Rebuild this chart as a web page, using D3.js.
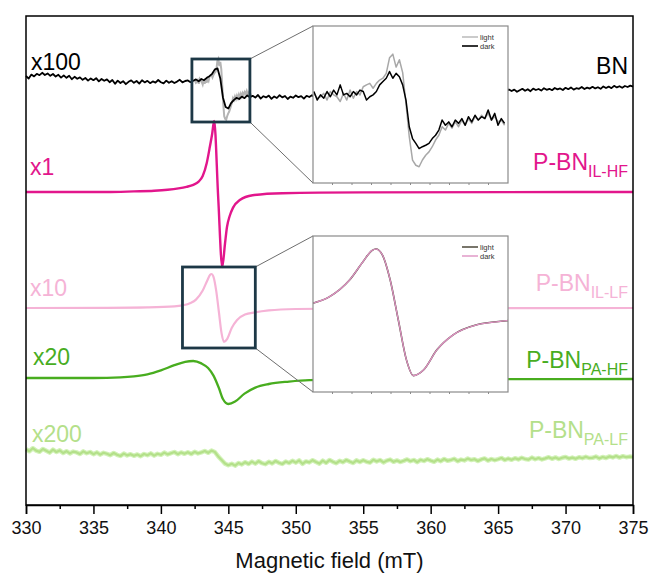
<!DOCTYPE html>
<html>
<head>
<meta charset="utf-8">
<script src="https://cdn.jsdelivr.net/npm/d3@7"></script>
<style>
  body { margin: 0; background: #fff; }
  svg { display: block; font-family: "Liberation Sans", Arial, sans-serif; }
</style>
</head>
<body>
<svg id="chart" width="651" height="574"></svg>
<script>
// ---------- EPR spectra (intensity in a.u., already multiplied by the stated factor) ----------

// BN, dark: evenly sampled from 330 mT in 0.2 mT steps
const bnStart = 330, bnStep = 0.2;
const bnDark = [
  0.5, -0.8, 1.2, 0.3, 1.6,   0.9, 2.1, 1.0, 1.8, 0.6,   1.5, 0.2, 1.1, -0.3, 0.8,
  -0.4, 0.6, -1.1, 0.1, -0.9, -0.2, -1.4, -0.5, -1.8, -0.7, -1.6, -0.6, -2.2, -1.0, -1.9,
  -1.2, -2.6, -1.5, -3.4, -1.8, -3.0, -2.1, -3.6, -2.4, -1.7, -2.9, -2.0, -3.3, -1.6, -2.7,
  -1.9, -3.1, -2.2, -2.8, -1.5, -2.6, -3.2, -1.8, -2.9, -2.1, -3.0, -2.3, -1.4, -2.7, -2.0,
  -1.7, -2.6, -1.9, -1.2, -2.2, -1.0, -1.6, -0.4, 0.4, 1.6,   3.8, 4.3, -0.6, -10.2, -15.0,
  -15.8, -13.1, -11.6, -10.4, -11.0, -9.8, -10.6, -9.2, -10.1, -9.4, -10.3, -9.0, -10.8, -9.6, -10.2,
  -9.3, -10.9, -9.7, -10.5, -9.1, -10.2, -9.5, -11.0, -9.8, -10.4, -9.2, -10.1, -9.6, -10.8, -9.4,
  -10.0, -9.1, -10.3, -8.8, -9.9, -9.3, -10.4, -8.9, -9.7, -9.0, -10.1, -8.7, -9.6, -9.2, -10.0,
  -8.6, -9.8, -8.9, -9.4, -8.3, -9.5, -8.4, -9.1, -8.0, -9.3, -8.7, -9.6, -8.2, -9.0, -8.5,
  -9.2, -7.9, -8.8, -8.1, -9.0, -8.3, -7.6, -8.9, -7.8, -8.4, -7.5, -8.6, -7.9, -8.2, -7.2,
  -8.4, -7.7, -8.8, -7.3, -8.0, -7.1, -8.2, -7.6, -6.8, -7.9, -7.4, -8.1, -6.9, -7.7, -7.0,
  -8.0, -6.7, -7.5, -7.1, -6.6, -7.6, -6.9, -7.8, -6.4, -7.2, -6.8, -7.5, -6.5, -7.3, -6.2,
  -7.0, -6.3, -7.4, -6.6, -5.9, -6.9, -6.1, -7.1, -5.8, -6.5, -6.0, -6.8, -5.6, -6.4, -5.9,
  -6.6, -5.5, -6.2, -5.7, -6.5, -5.4, -6.1, -5.2, -6.3, -5.6, -5.9, -5.0, -6.0, -5.3, -5.8,
  -4.9, -5.7, -5.1, -5.9, -4.7, -5.5, -4.8, -5.6, -4.4, -5.2, -4.6, -5.4, -4.5, -5.0, -4.3,
  -4.8
];

// BN around the signal, finer sampling: dark and light measurements
const bnFineStart = 342.52, bnFineStep = 0.0725;
const bnFineDark = [
  -1.1, -3.4, -2.0, -2.9, -1.1, -2.5, -0.7, -2.0, 0.7, -2.0,
  -1.6, -2.5, -1.1, -2.0, -0.7, -1.1, -3.4, -2.5, -2.0, -1.1,
  0.7, 1.6, 2.5, 4.3, 2.5, 3.8, 2.9, 0.7, -3.4, -10.6,
  -13.8, -15.1, -16.5, -16.0, -15.6, -15.1, -13.8, -12.9, -11.5, -8.8,
  -10.2, -9.3, -10.6, -8.8, -9.7, -8.4, -10.2, -7.9, -9.3, -7.5,
  -8.8, -7.9, -8.4, -6.1, -8.8, -7.0, -10.2, -8.4, -9.7
];
const bnFineLight = [
  -1.6, -2.9, -2.5, -1.6, -3.4, -1.1, -2.0, -2.5, -3.8, -1.6,
  -3.4, -0.7, -2.9, -1.1, -2.0, 0.2, 0.7, 1.1, -0.2, 1.1,
  2.0, 2.5, 3.8, 8.0, 9.0, 5.5, 7.5, 4.0, -4.3, -13.3,
  -19.6, -21.0, -21.4, -19.6, -18.3, -17.4, -16.0, -14.2, -12.9, -10.6,
  -11.5, -9.7, -11.0, -9.3, -10.6, -8.8, -10.2, -8.4, -9.7, -7.9,
  -8.8, -7.5, -8.4, -7.0, -8.8, -7.9, -9.3, -8.8, -10.2
];

// P-BN IL-HF (x1): [field mT, intensity]
const ilHF = [
  [330, 0], [336, 0], [338, 0.3], [339.5, 0.6], [340.5, 1.1], [341.3, 1.8], [341.9, 2.6],
  [342.4, 3.6], [342.8, 5.2], [343.1, 8], [343.4, 14.5], [343.6, 21.5], [343.8, 29],
  [343.95, 35.5], [344.25, -3], [344.55, -37.5], [344.75, -26], [344.9, -17.5],
  [345.1, -12], [345.35, -7.8], [345.85, -4], [346.8, -1.6], [349, -0.6],
  [355, -0.2], [375, 0]
];

// P-BN IL-LF (x10), dark
const ilLF = [
  [330, 0], [336, 0.1], [339, 0.3], [341, 0.8], [341.6, 1.3], [342.2, 2.5],
  [342.6, 4.2], [343.1, 8.7], [343.43, 13.6], [343.65, 16.6], [343.75, 17],
  [343.9, 15.6], [344.1, 8.7], [344.3, -2], [344.5, -12.7], [344.67, -16.9],
  [344.92, -15.4], [345.25, -10], [345.65, -6], [346.23, -3.3], [346.97, -2.2],
  [348, -1.2], [350, -0.5], [355, -0.2], [375, 0]
];

// P-BN PA-HF (x20)
const paHF = [
  [330, 0], [335, 0], [337, 0.3], [338, 0.8], [339, 1.8], [340, 3.8], [341, 6.4],
  [341.8, 8.1], [342.4, 8.5], [343.0, 7.3], [343.5, 5], [343.9, 1.2], [344.3, -5],
  [344.6, -10.5], [345.0, -13], [345.5, -11.8], [346.2, -7.8], [347.0, -4.8],
  [348.0, -3], [349.5, -1.8], [351, -1.1], [355, -0.7], [375, -0.5]
];

// P-BN PA-LF (x200): evenly sampled from 330 mT in 0.25 mT steps
const paLFStart = 330, paLFStep = 0.25;
const paLF = [
  0.4, -0.6, 0.9, -0.3,  -0.9, 0.5, -0.4, -1.3,  0.2, -1.0, -0.2, -1.5,
  -0.6, -1.7, -0.8, -1.2,  -2.0, -0.7, -1.6, -1.0,  -2.1, -1.2, -2.3, -1.4,
  -1.9, -2.6, -1.5, -2.4,  -3.0, -1.8, -2.7, -2.1,  -2.9, -2.2, -3.1, -2.0,
  -2.6, -1.7, -2.8, -1.9,  -2.4, -1.3, -2.2, -1.6,  -1.0, -2.1, -1.2, -1.9,
  -1.1, -2.0, -0.9, -1.7,  -1.2, -0.5, -1.4, -0.3,  -1.0, -3.2, -5.0, -6.8,
  -7.6, -6.9, -7.8, -6.5,  -7.2, -6.1, -7.0, -5.8,  -6.8, -5.6, -6.6, -7.1,
  -5.9, -6.7, -5.5, -6.4,  -7.0, -5.8, -6.5, -5.4,  -6.3, -5.2, -6.9, -5.7,
  -6.2, -5.1, -6.0, -6.8,  -5.3, -6.4, -5.0, -5.9,  -6.6, -5.4, -6.1, -5.0,
  -5.8, -6.5, -5.2, -6.0,  -5.1, -5.9, -6.3, -4.9,  -5.7, -5.0, -6.2, -5.3,
  -4.8, -5.9, -5.2, -6.0,  -5.4, -4.7, -5.6, -5.0,  -6.1, -4.9, -5.5, -4.6,
  -5.3, -5.9, -4.8, -5.6,  -4.5, -5.4, -5.0, -4.4,  -5.6, -4.8, -5.2, -4.3,
  -5.0, -4.6, -5.5, -4.7,  -4.2, -5.3, -4.5, -5.1,  -4.6, -4.0, -5.0, -4.3,
  -4.9, -4.1, -4.7, -3.9,  -4.5, -4.8, -3.8, -4.6,  -4.0, -4.7, -4.2, -3.6,
  -4.4, -3.7, -4.5, -3.9,  -3.5, -4.3, -3.8, -4.4,  -3.6, -4.1, -3.4, -4.0,
  -3.9, -3.3, -4.2, -3.5,  -4.0, -3.2, -3.7, -3.0,  -3.8, -3.1, -3.6, -3.3,
  -3.5
];

// vertical stacking of the spectra (a.u.)
const traceOffsets = { bn: 214, ilHF: 156.5, ilLF: 98.5, paHF: 63.5, paLF: 27.5 };

// labels
const factorLabels = ["x100", "x1", "x10", "x20", "x200"];
const sampleNames = ["BN", "P-BN", "P-BN", "P-BN", "P-BN"];
const sampleSubs = ["", "IL-HF", "IL-LF", "PA-HF", "PA-LF"];
const majorTicks = [330, 335, 340, 345, 350, 355, 360, 365, 370, 375];
const minorTicks = [332.5, 337.5, 342.5, 347.5, 352.5, 357.5, 362.5, 367.5, 372.5];

// zoomed windows: field range of the marker boxes and of the insets
const box1Field = [342.3, 346.6], box1Int = [191.5, 223];
const box2Field = [341.6, 347.0], box2Int = [78.5, 119];
const inset1Field = [342.5, 346.8], inset1Int = [-25.8, 16.6];
const inset2Field = [342.2, 347.0], inset2Int = [-21.3, 20.5];

// ---------- drawing ----------
const colors = {
  bn: "#000000", bnLight: "#b4b4b4",
  ilHF: "#e2168c", ilLF: "#f5b3d6", paHF: "#48ad1f", paLF: "#b4e08a",
  box: "#1d3846", frame: "#8a8a8a"
};
const svg = d3.select("#chart");
const plot = { left: 26, right: 633, top: 16, bottom: 505 };

const x = d3.scaleLinear().domain([330, 375]).range([plot.left, plot.right]);
const y = d3.scaleLinear().domain([0, 244.5]).range([plot.bottom, plot.top]);

const even = (arr, start, step) => arr.map((v, i) => [start + i * step, v]);
const mainLine = (off, curve) => d3.line()
  .x(d => x(d[0])).y(d => y(d[1] + off))
  .curve(curve || d3.curveLinear);

const gTraces = svg.append("g");

// BN
gTraces.append("path").datum(even(bnFineLight, bnFineStart, bnFineStep))
  .attr("d", mainLine(traceOffsets.bn)).attr("fill", "none")
  .attr("stroke", colors.bnLight).attr("stroke-width", 2);
gTraces.append("path").datum(even(bnDark, bnStart, bnStep))
  .attr("d", mainLine(traceOffsets.bn)).attr("fill", "none")
  .attr("stroke", colors.bn).attr("stroke-width", 1.8).attr("stroke-linejoin", "round");

// IL-HF
gTraces.append("path").datum(ilHF)
  .attr("d", mainLine(traceOffsets.ilHF, d3.curveMonotoneX)).attr("fill", "none")
  .attr("stroke", colors.ilHF).attr("stroke-width", 2.4);

// IL-LF
gTraces.append("path").datum(ilLF)
  .attr("d", mainLine(traceOffsets.ilLF, d3.curveMonotoneX)).attr("fill", "none")
  .attr("stroke", colors.ilLF).attr("stroke-width", 2.2);

// PA-HF
gTraces.append("path").datum(paHF)
  .attr("d", mainLine(traceOffsets.paHF, d3.curveMonotoneX)).attr("fill", "none")
  .attr("stroke", colors.paHF).attr("stroke-width", 2.3);

// PA-LF (noisy, with a pale halo)
const paLFPts = even(paLF, paLFStart, paLFStep);
gTraces.append("path").datum(paLFPts)
  .attr("d", mainLine(traceOffsets.paLF)).attr("fill", "none")
  .attr("stroke", "#d2f2b8").attr("stroke-width", 4.5).attr("stroke-linejoin", "round");
gTraces.append("path").datum(paLFPts)
  .attr("d", mainLine(traceOffsets.paLF)).attr("fill", "none")
  .attr("stroke", colors.paLF).attr("stroke-width", 2.2).attr("stroke-linejoin", "round");

// frame and axis
svg.append("rect")
  .attr("x", plot.left).attr("y", plot.top)
  .attr("width", plot.right - plot.left).attr("height", plot.bottom - plot.top)
  .attr("fill", "none").attr("stroke", "#000").attr("stroke-width", 1.5);

const axisMajor = d3.axisBottom(x).tickValues(majorTicks).tickSize(9).tickPadding(7)
  .tickFormat(d3.format("d"));
const gAxis = svg.append("g").attr("transform", `translate(0,${plot.bottom})`).call(axisMajor);
gAxis.select(".domain").attr("stroke-width", 1.5);
gAxis.selectAll(".tick line").attr("stroke-width", 1.5);
gAxis.selectAll("text").attr("font-size", 18)
  .attr("font-family", "'Liberation Sans', Arial, sans-serif").attr("fill", "#111");

const axisMinor = d3.axisBottom(x).tickValues(minorTicks).tickSize(4).tickFormat("");
const gMinor = svg.append("g").attr("transform", `translate(0,${plot.bottom})`).call(axisMinor);
gMinor.select(".domain").remove();
gMinor.selectAll(".tick line").attr("stroke-width", 1.5);

svg.append("text")
  .attr("x", (plot.left + plot.right) / 2).attr("y", 568)
  .attr("text-anchor", "middle").attr("font-size", 22).attr("fill", "#111")
  .text("Magnetic field (mT)");

// left factor labels and right sample names
const keys = ["bn", "ilHF", "ilLF", "paHF", "paLF"];
const factorPos = [[31, 70], [30, 175], [30, 296], [33, 365], [32, 442]];
const namePos = [74, 170, 291, 368, 438];
keys.forEach((k, i) => {
  svg.append("text")
    .attr("x", factorPos[i][0]).attr("y", factorPos[i][1])
    .attr("font-size", 23).attr("fill", colors[k])
    .text(factorLabels[i]);
  const t = svg.append("text")
    .attr("x", 628).attr("y", namePos[i])
    .attr("text-anchor", "end").attr("font-size", 23).attr("fill", colors[k]);
  t.append("tspan").text(sampleNames[i]);
  if (sampleSubs[i]) {
    t.append("tspan").attr("font-size", 16).attr("dy", 6.5).text(sampleSubs[i]);
  }
});

// marker boxes, connectors and insets
const inset1Box = { x0: 313, x1: 508, y0: 26, y1: 183 };
const inset2Box = { x0: 313, x1: 508, y0: 236, y1: 392 };

function markerBox(field, inten, inset) {
  const bx0 = x(field[0]), bx1 = x(field[1]);
  const by0 = y(inten[1]), by1 = y(inten[0]);
  svg.append("line").attr("x1", bx1).attr("y1", by0).attr("x2", inset.x0).attr("y2", inset.y0)
    .attr("stroke", "#6e6e6e").attr("stroke-width", 1);
  svg.append("line").attr("x1", bx1).attr("y1", by1).attr("x2", inset.x0).attr("y2", inset.y1)
    .attr("stroke", "#6e6e6e").attr("stroke-width", 1);
  svg.append("rect").attr("x", bx0).attr("y", by0)
    .attr("width", bx1 - bx0).attr("height", by1 - by0)
    .attr("fill", "none").attr("stroke", colors.box).attr("stroke-width", 2.8);
}
markerBox(box1Field, box1Int, inset1Box);
markerBox(box2Field, box2Int, inset2Box);

function drawInset(box, fieldDom, intDom, series, legend) {
  const g = svg.append("g");
  g.append("rect").attr("x", box.x0).attr("y", box.y0)
    .attr("width", box.x1 - box.x0).attr("height", box.y1 - box.y0)
    .attr("fill", "#fff");
  const ix = d3.scaleLinear().domain(fieldDom).range([box.x0, box.x1]);
  const iy = d3.scaleLinear().domain(intDom).range([box.y1, box.y0]);
  const clipId = "clip" + box.y0;
  g.append("clipPath").attr("id", clipId).append("rect")
    .attr("x", box.x0).attr("y", box.y0)
    .attr("width", box.x1 - box.x0).attr("height", box.y1 - box.y0);
  const gl = g.append("g").attr("clip-path", `url(#${clipId})`);
  series.forEach(s => {
    gl.append("path").datum(s.data)
      .attr("d", d3.line().x(d => ix(d[0])).y(d => iy(d[1])).curve(s.curve || d3.curveLinear))
      .attr("fill", "none").attr("stroke", s.color).attr("stroke-width", s.width)
      .attr("stroke-linejoin", "round");
  });
  g.append("rect").attr("x", box.x0).attr("y", box.y0)
    .attr("width", box.x1 - box.x0).attr("height", box.y1 - box.y0)
    .attr("fill", "none").attr("stroke", colors.frame).attr("stroke-width", 1.2);
  // small ticks along the bottom edge
  const tickScale = d3.scaleLinear().domain([0, 10]).range([box.x0, box.x1]);
  g.selectAll(".itick").data(d3.range(1, 10)).join("line")
    .attr("x1", d => tickScale(d)).attr("x2", d => tickScale(d))
    .attr("y1", box.y1).attr("y2", box.y1 + 2)
    .attr("stroke", colors.frame).attr("stroke-width", 1);
  // legend
  legend.forEach((l, i) => {
    const ly = box.y0 + 11 + i * 9;
    g.append("line").attr("x1", box.x1 - 46).attr("x2", box.x1 - 30)
      .attr("y1", ly).attr("y2", ly).attr("stroke", l.color).attr("stroke-width", l.width);
    g.append("text").attr("x", box.x1 - 28).attr("y", ly + 2.5)
      .attr("font-size", 7.5).attr("fill", "#333").text(l.name);
  });
}

drawInset(inset1Box, inset1Field, inset1Int, [
  { data: even(bnFineLight, bnFineStart, bnFineStep), color: "#a8a8a8", width: 1.5 },
  { data: even(bnFineDark, bnFineStart, bnFineStep), color: "#000", width: 1.5 }
], [
  { name: "light", color: "#a8a8a8", width: 1.2 },
  { name: "dark", color: "#000", width: 1.6 }
]);

drawInset(inset2Box, inset2Field, inset2Int, [
  { data: ilLF, color: "#4b4636", width: 1.6, curve: d3.curveMonotoneX },
  { data: ilLF, color: "#de92c3", width: 1.3, curve: d3.curveMonotoneX }
], [
  { name: "light", color: "#3f3b2c", width: 1.4 },
  { name: "dark", color: "#de92c3", width: 1.4 }
]);
</script>
</body>
</html>
